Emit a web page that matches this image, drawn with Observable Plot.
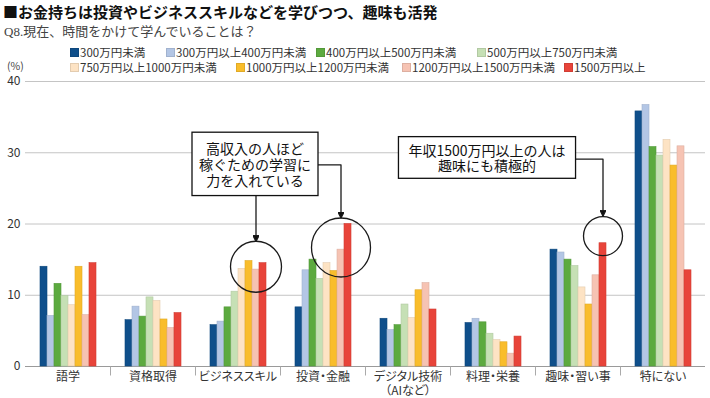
<!DOCTYPE html>
<html><head><meta charset="utf-8">
<script src="https://cdn.jsdelivr.net/npm/d3@7"></script>
<script src="https://cdn.jsdelivr.net/npm/@observablehq/plot@0.6"></script>
<style>
body{margin:0;width:710px;height:398px;overflow:hidden;background:#fff;font-family:"Noto Sans CJK JP",sans-serif;color:#222;position:relative}
#title{position:absolute;left:3px;top:2px;font-size:15px;font-weight:bold;line-height:20px;color:#111;white-space:nowrap}
#sub{position:absolute;left:4px;top:23px;font-size:13px;line-height:18px;color:#444;font-family:"Liberation Serif","Noto Sans CJK JP",serif;white-space:nowrap}
#legend{position:absolute;left:0;top:44px;width:710px;height:32px;font-size:11.5px;color:#333;font-feature-settings:"palt"}
.item{position:absolute;display:flex;align-items:center;white-space:nowrap;height:15px;line-height:15px}
.sw{width:9px;height:9px;margin-right:1px;box-sizing:border-box}
#unit{position:absolute;left:7px;top:59px;font-size:10.5px;line-height:13px;color:#444}
#chart{position:absolute;left:0;top:70px}
#chart svg{overflow:visible}
#chart g[aria-label^="fx-axis"] text{font-feature-settings:"palt"}
</style></head>
<body>
<div id="title">■お金持ちは投資やビジネススキルなどを学びつつ、趣味も活発</div>
<div id="sub">Q8.現在、時間をかけて学んでいることは？</div>
<div id="legend"></div>
<div id="unit">(%)</div>
<div id="chart"></div>
<script>
// ---- data ----
const categories = ["語学", "資格取得", "ビジネススキル", "投資・金融", "デジタル技術（AIなど）", "料理・栄養", "趣味・習い事", "特にない"];
const incomeGroups = ["300万円未満", "300万円以上400万円未満", "400万円以上500万円未満", "500万円以上750万円未満",
  "750万円以上1000万円未満", "1000万円以上1200万円未満", "1200万円以上1500万円未満", "1500万円以上"];
const under300       = [14.0, 6.5, 5.8, 8.3, 6.7, 6.1, 16.4, 35.8];
const from300to400   = [7.1, 8.4, 6.3, 13.5, 5.1, 6.7, 16.0, 36.7];
const from400to500   = [11.6, 7.0, 8.3, 15.0, 5.8, 6.2, 15.0, 30.8];
const from500to750   = [9.9, 9.7, 10.5, 12.3, 8.7, 4.6, 14.1, 29.6];
const from750to1000  = [8.6, 9.2, 13.7, 14.5, 6.8, 3.7, 11.1, 31.8];
const from1000to1200 = [14.0, 6.6, 14.8, 13.4, 10.7, 3.4, 8.7, 28.2];
const from1200to1500 = [7.2, 5.4, 13.6, 16.4, 11.7, 1.8, 12.8, 30.9];
const over1500       = [14.5, 7.5, 14.5, 20.0, 8.0, 4.2, 17.3, 13.5];
const noteTexts = ["高収入の人ほど\n稼ぐための学習に\n力を入れている", "年収1500万円以上の人は\n趣味にも積極的"];

// ---- styles ----
const colors = ["#0f4f8b", "#b3c6e5", "#5caa3f", "#c6e0b5", "#fde3c4", "#f9bd2b", "#f6c3b3", "#e8443a"];
const legendLefts = [70, 166, 316, 477, 70, 236, 402, 564];
const seriesValues = [under300, from300to400, from400to500, from500to750, from750to1000, from1000to1200, from1200to1500, over1500];
const fillOf = new Map(incomeGroups.map((g, j) => [g, colors[j]]));
const strokeOf = new Map(incomeGroups.map((g, j) => [g, d3.color(colors[j]).darker(0.3).formatHex()]));

const table = incomeGroups.flatMap((g, j) => categories.map((c, i) => ({category: c, group: g, value: seriesValues[j][i]})));

// annotation anchors in data coordinates
const circles = [
  {category: categories[2], group: incomeGroups[6], value: 14.0, r: 25.5},
  {category: categories[3], group: incomeGroups[6], value: 16.7, r: 29.5},
  {category: categories[6], group: incomeGroups[7], value: 18.3, r: 19.5}
];
const arrows = [
  {id: 1, category: categories[2], group: incomeGroups[6], value: 28.3},
  {id: 1, category: categories[2], group: incomeGroups[6], value: 17.55},
  {id: 2, category: categories[3], group: incomeGroups[0], value: 28.3},
  {id: 2, category: categories[3], group: incomeGroups[6], value: 28.3},
  {id: 2, category: categories[3], group: incomeGroups[6], value: 20.85},
  {id: 3, category: categories[6], group: incomeGroups[0], value: 29.1},
  {id: 3, category: categories[6], group: incomeGroups[7], value: 29.1},
  {id: 3, category: categories[6], group: incomeGroups[7], value: 21.1}
];
const notes = [
  {category: categories[2], group: incomeGroups[6], value: 28.3, text: noteTexts[0], dx: -1, padX: 7, padY: 6},
  {category: categories[5], group: incomeGroups[2], value: 29.2, text: noteTexts[1], dx: 4, padX: 10, padY: 3}
];

// ---- legend ----
const legend = document.getElementById("legend");
incomeGroups.forEach((g, j) => {
  const it = document.createElement("div"); it.className = "item";
  it.style.left = legendLefts[j] + "px";
  it.style.top = (j < 4 ? 1 : 16) + "px";
  const sw = document.createElement("span"); sw.className = "sw";
  sw.style.background = fillOf.get(g); sw.style.border = "0.5px solid " + strokeOf.get(g);
  const tx = document.createElement("span"); tx.textContent = g;
  it.append(sw, tx); legend.append(it);
});

// ---- marker & separator symbol ----
const NS = "http://www.w3.org/2000/svg";
function arrowHead(color) {
  const m = document.createElementNS(NS, "marker");
  m.setAttribute("viewBox", "-6 -3 6 6");
  m.setAttribute("markerWidth", 6); m.setAttribute("markerHeight", 6);
  m.setAttribute("markerUnits", "userSpaceOnUse");
  m.setAttribute("orient", "auto");
  m.setAttribute("refX", 0); m.setAttribute("refY", 0);
  const p = document.createElementNS(NS, "path");
  p.setAttribute("d", "M-6,-3L0,0L-6,3Z"); p.setAttribute("fill", "#111");
  m.append(p); return m;
}
const sepSymbol = {draw(ctx) { ctx.moveTo(0, 0); ctx.lineTo(0, 9); }};

const chart = Plot.plot({
  width: 710, height: 328,
  marginTop: 11, marginBottom: 32, marginLeft: 23, marginRight: 4,
  style: {fontFamily: "'Noto Sans CJK JP', sans-serif", fontSize: "12px", color: "#333", background: "transparent"},
  fx: {domain: categories, padding: 0, label: null},
  x: {domain: incomeGroups, axis: null, paddingInner: 0, paddingOuter: 1.34},
  y: {domain: [0, 40], ticks: 4, tickSize: 0, tickPadding: 5, label: null, fontSize: 12.5},
  marks: [
    Plot.ruleY([10, 20, 30, 40], {stroke: "#c4c4c4", strokeWidth: 1}),
    Plot.ruleY([0], {stroke: "#9a9a9a", strokeWidth: 1}),
    Plot.dot(categories.slice(1), {fx: d => d, frameAnchor: "bottom-left", symbol: sepSymbol, stroke: "#aaa", fill: "none", strokeWidth: 1}),
    Plot.barY(table, {fx: "category", x: "group", y: "value",
      fill: d => fillOf.get(d.group), stroke: d => strokeOf.get(d.group), strokeWidth: 0.6}),
    Plot.dot(circles, {fx: "category", x: "group", y: "value", r: {value: "r", scale: null}, stroke: "#1a1a1a", strokeWidth: 1.3, fill: "none"}),
    Plot.line(arrows, {fx: "category", x: "group", y: "value", z: "id", stroke: "#1a1a1a", strokeWidth: 1.3, markerEnd: arrowHead}),
    Plot.text(notes, {fx: "category", x: "group", y: "value", text: "text", fontSize: 14, lineHeight: 1.12, fill: "#111"}),
    Plot.axisFx({anchor: "bottom", tickSize: 0, tickPadding: 5, label: null, fontSize: 12, lineHeight: 1.15,
      tickFormat: d => d.replace("（", "\n（"), fill: "#333"})
  ]
});
document.getElementById("chart").append(chart);

// draw white framed boxes behind annotation text, above everything else
const flat = s => s.replace(/\s/g, "");
Array.from(chart.querySelectorAll("text")).forEach(t => {
  const note = notes.find(n => flat(t.textContent) === flat(n.text));
  if (!note) return;
  const g = t.parentNode;
  const facet = g.parentNode;
  const wrap = document.createElementNS(NS, "g");
  const tr = facet && facet !== chart ? facet.getAttribute("transform") : null;
  if (tr) wrap.setAttribute("transform", tr);
  chart.append(wrap); wrap.append(g);
  const tt = t.getAttribute("transform") || "";
  t.setAttribute("transform", tt + ` translate(${note.dx},0)`);
  const b = t.getBBox();
  const r = document.createElementNS(NS, "rect");
  r.setAttribute("x", b.x - note.padX); r.setAttribute("y", b.y - note.padY);
  r.setAttribute("width", b.width + 2 * note.padX); r.setAttribute("height", b.height + 2 * note.padY);
  r.setAttribute("fill", "#fff"); r.setAttribute("stroke", "#111"); r.setAttribute("stroke-width", 1.3);
  r.setAttribute("transform", t.getAttribute("transform"));
  g.insertBefore(r, t);
});
</script>
</body></html>
